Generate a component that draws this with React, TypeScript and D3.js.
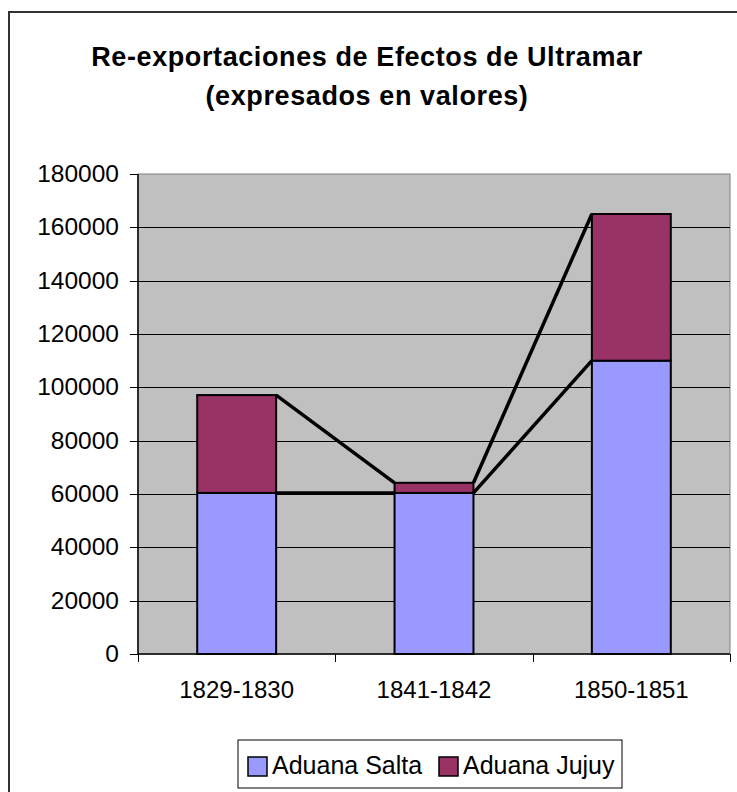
import React, { useEffect, useRef } from "react";
import * as d3 from "d3";

const categories = ["1829-1830", "1841-1842", "1850-1851"];
const saltaValues = [60400, 60400, 110000];
const jujuyValues = [36700, 3800, 55000];
const yTicks = [0, 20000, 40000, 60000, 80000, 100000, 120000, 140000, 160000, 180000];
const seriesNames = ["Aduana Salta", "Aduana Jujuy"];
const seriesColors = ["#9999ff", "#993366"];

const App = () => {
  const svgRef = useRef<SVGSVGElement>(null);

  useEffect(() => {
    const width = 737;
    const height = 792;
    const plot = { left: 138, right: 730, top: 174, bottom: 654 };
    const font = "'Liberation Sans', Arial, sans-serif";

    const svg = d3.select(svgRef.current).attr("width", width).attr("height", height);
    svg.selectAll("*").remove();

    // outer chart frame
    svg
      .append("rect")
      .attr("x", 9)
      .attr("y", 12)
      .attr("width", 760)
      .attr("height", 800)
      .attr("fill", "#fff")
      .attr("stroke", "#333")
      .attr("stroke-width", 2);

    const title = svg
      .append("text")
      .attr("text-anchor", "middle")
      .attr("font-family", font)
      .attr("font-weight", "bold")
      .attr("font-size", 27)
      .attr("letter-spacing", 0.6)
      .attr("fill", "#000");
    title.append("tspan").attr("x", 367).attr("y", 66).text("Re-exportaciones de Efectos de Ultramar");
    title.append("tspan").attr("x", 367).attr("y", 105).text("(expresados en valores)");

    const x = d3.scaleBand().domain(categories).range([plot.left, plot.right]).padding(0);
    const y = d3.scaleLinear().domain([0, 180000]).range([plot.bottom, plot.top]);
    const barW = x.bandwidth() * 0.4;

    svg
      .append("rect")
      .attr("x", plot.left)
      .attr("y", plot.top)
      .attr("width", plot.right - plot.left)
      .attr("height", plot.bottom - plot.top)
      .attr("fill", "#c0c0c0")
      .attr("stroke", "#808080")
      .attr("stroke-width", 1);

    svg
      .append("g")
      .selectAll("line")
      .data(yTicks.filter((t) => t > 0 && t < 180000))
      .enter()
      .append("line")
      .attr("x1", plot.left)
      .attr("x2", plot.right)
      .attr("y1", (d) => Math.round(y(d)) + 0.5)
      .attr("y2", (d) => Math.round(y(d)) + 0.5)
      .attr("stroke", "#000")
      .attr("stroke-width", 1);

    const stacked = categories.map((c, i) => ({
      cat: c,
      layers: [
        { y0: 0, y1: saltaValues[i], color: seriesColors[0] },
        { y0: saltaValues[i], y1: saltaValues[i] + jujuyValues[i], color: seriesColors[1] },
      ],
    }));

    const barX = (c: string) => (x(c) as number) + x.bandwidth() / 2 - barW / 2;

    stacked.forEach((s) => {
      svg
        .append("g")
        .selectAll("rect")
        .data(s.layers)
        .enter()
        .append("rect")
        .attr("x", barX(s.cat))
        .attr("y", (d) => y(d.y1))
        .attr("width", barW)
        .attr("height", (d) => y(d.y0) - y(d.y1))
        .attr("fill", (d) => d.color)
        .attr("stroke", "#000")
        .attr("stroke-width", 2);
    });

    // series lines between stacks
    const levels = [saltaValues, saltaValues.map((v, i) => v + jujuyValues[i])];
    levels.forEach((lvl) => {
      for (let i = 0; i < categories.length - 1; i++) {
        svg
          .append("line")
          .attr("x1", barX(categories[i]) + barW)
          .attr("y1", y(lvl[i]))
          .attr("x2", barX(categories[i + 1]))
          .attr("y2", y(lvl[i + 1]))
          .attr("stroke", "#000")
          .attr("stroke-width", 3.5);
      }
    });

    // y axis
    const yAxis = svg.append("g");
    yAxis
      .append("line")
      .attr("x1", plot.left)
      .attr("x2", plot.left)
      .attr("y1", plot.top)
      .attr("y2", plot.bottom)
      .attr("stroke", "#000")
      .attr("stroke-width", 1.5);
    yAxis
      .selectAll("line.tick")
      .data(yTicks)
      .enter()
      .append("line")
      .attr("class", "tick")
      .attr("x1", plot.left - 8)
      .attr("x2", plot.left)
      .attr("y1", (d) => Math.round(y(d)) + 0.5)
      .attr("y2", (d) => Math.round(y(d)) + 0.5)
      .attr("stroke", "#000");
    yAxis
      .selectAll("text")
      .data(yTicks)
      .enter()
      .append("text")
      .attr("x", plot.left - 19)
      .attr("y", (d) => y(d) + 8)
      .attr("text-anchor", "end")
      .attr("font-family", font)
      .attr("font-size", 24.5)
      .attr("fill", "#000")
      .text((d) => d3.format("d")(d));

    // x axis
    const xAxis = svg.append("g");
    xAxis
      .append("line")
      .attr("x1", plot.left)
      .attr("x2", plot.right)
      .attr("y1", plot.bottom)
      .attr("y2", plot.bottom)
      .attr("stroke", "#000")
      .attr("stroke-width", 1.5);
    const bounds = [plot.left, ...categories.map((c) => (x(c) as number) + x.bandwidth())];
    xAxis
      .selectAll("line.tick")
      .data(bounds)
      .enter()
      .append("line")
      .attr("class", "tick")
      .attr("x1", (d) => Math.round(d) + 0.5)
      .attr("x2", (d) => Math.round(d) + 0.5)
      .attr("y1", plot.bottom)
      .attr("y2", plot.bottom + 8)
      .attr("stroke", "#000");
    xAxis
      .selectAll("text")
      .data(categories)
      .enter()
      .append("text")
      .attr("x", (d) => (x(d) as number) + x.bandwidth() / 2)
      .attr("y", 698)
      .attr("text-anchor", "middle")
      .attr("font-family", font)
      .attr("font-size", 24)
      .attr("fill", "#000")
      .text((d) => d);

    // legend
    const legend = svg.append("g");
    legend
      .append("rect")
      .attr("x", 238)
      .attr("y", 740)
      .attr("width", 384)
      .attr("height", 48)
      .attr("fill", "#fff")
      .attr("stroke", "#000")
      .attr("stroke-width", 1);
    const itemX = [248, 439];
    seriesNames.forEach((name, i) => {
      legend
        .append("rect")
        .attr("x", itemX[i])
        .attr("y", 757)
        .attr("width", 19)
        .attr("height", 19)
        .attr("fill", seriesColors[i])
        .attr("stroke", "#000")
        .attr("stroke-width", 1.5);
      legend
        .append("text")
        .attr("x", itemX[i] + 24)
        .attr("y", 774)
        .attr("font-family", font)
        .attr("font-size", 25)
        .attr("fill", "#000")
        .text(name);
    });
  }, []);

  return (
    <svg
      ref={svgRef}
      style={{ position: "absolute", left: 0, top: 0, display: "block" }}
    ></svg>
  );
};

export default App;
